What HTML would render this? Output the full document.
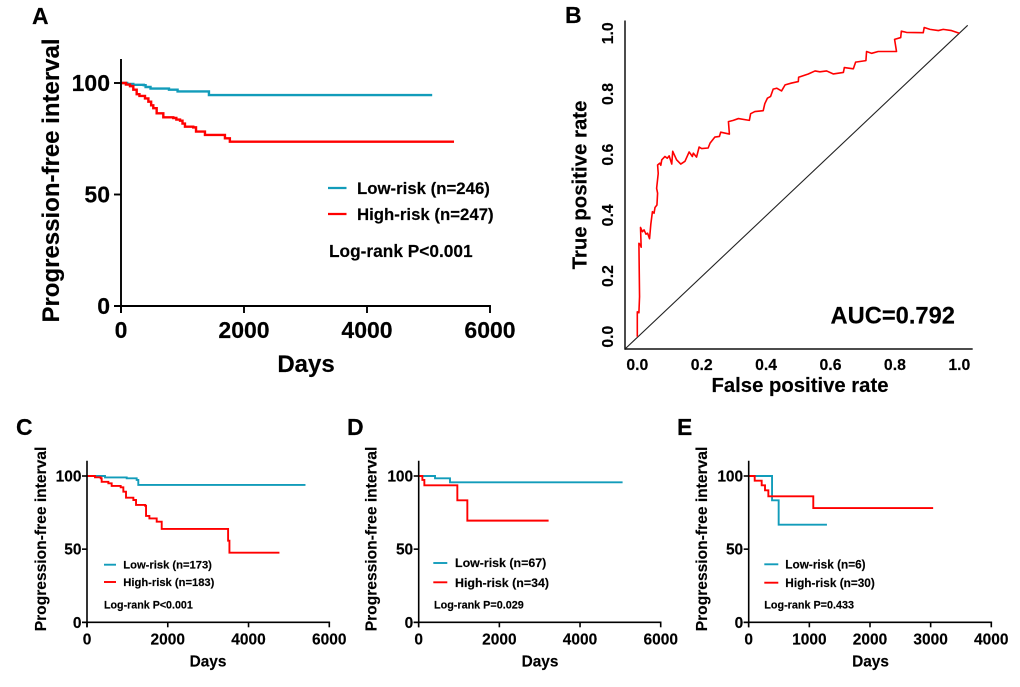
<!DOCTYPE html>
<html lang="en">
<head>
<meta charset="utf-8">
<title>Progression-free interval survival and ROC panels</title>
<style>
html,body{margin:0;padding:0;background:#fff;}
svg{display:block;filter:blur(0.35px);}
text{font-family:"Liberation Sans",Arial,sans-serif;font-weight:bold;fill:#000;stroke:#000;stroke-width:0.15px;}
</style>
</head>
<body>
<svg id="figure" xmlns="http://www.w3.org/2000/svg" width="1020" height="687" viewBox="0 0 1020 687">
  <rect x="0" y="0" width="1020" height="687" fill="#fff"/>

  <text x="32" y="24" font-size="23">A</text>
  <text x="565" y="23" font-size="23">B</text>
  <text x="16" y="435" font-size="23">C</text>
  <text x="347" y="435" font-size="23">D</text>
  <text x="677" y="435" font-size="23">E</text>

  <g id="panel-a">
    <text transform="translate(59,180.5) rotate(-90)" text-anchor="middle" font-size="24">Progression-free interval</text>
    <text x="306" y="372" text-anchor="middle" font-size="24">Days</text>
    <line x1="328" x2="346.5" y1="188" y2="188" stroke="#129cba" stroke-width="2.2"/>
    <line x1="328" x2="346.5" y1="214" y2="214" stroke="#ff0000" stroke-width="2.2"/>
    <text x="357" y="194" font-size="16.8">Low-risk (n=246)</text>
    <text x="357" y="220" font-size="16.8">High-risk (n=247)</text>
    <text x="329" y="257" font-size="17.3">Log-rank P&lt;0.001</text>
  </g>

  <g id="panel-b">
    <text transform="translate(586.7,185) rotate(-90)" text-anchor="middle" font-size="20.4">True positive rate</text>
    <text x="800" y="392" text-anchor="middle" font-size="20.3">False positive rate</text>
    <text x="830.5" y="323.5" font-size="23.7">AUC=0.792</text>
  </g>

  <g id="panel-c">
    <text transform="translate(46,539) rotate(-90)" text-anchor="middle" font-size="15.6">Progression-free interval</text>
    <text x="208" y="666.7" text-anchor="middle" font-size="15.4">Days</text>
    <line x1="104" x2="116" y1="564.7" y2="564.7" stroke="#129cba" stroke-width="1.9"/>
    <line x1="104" x2="116" y1="582" y2="582" stroke="#ff0000" stroke-width="1.9"/>
    <text x="123.3" y="568.7" font-size="11.2">Low-risk (n=173)</text>
    <text x="123.3" y="586" font-size="11.2">High-risk (n=183)</text>
    <text x="104" y="608.7" font-size="10.7">Log-rank P&lt;0.001</text>
  </g>

  <g id="panel-d">
    <text transform="translate(376.5,539) rotate(-90)" text-anchor="middle" font-size="15.6">Progression-free interval</text>
    <text x="540" y="666.7" text-anchor="middle" font-size="15.4">Days</text>
    <line x1="433.3" x2="447.3" y1="563" y2="563" stroke="#129cba" stroke-width="1.9"/>
    <line x1="433.3" x2="447.3" y1="582.3" y2="582.3" stroke="#ff0000" stroke-width="1.9"/>
    <text x="455" y="567" font-size="12.4">Low-risk (n=67)</text>
    <text x="455" y="587" font-size="12.4">High-risk (n=34)</text>
    <text x="434" y="608.7" font-size="10.8">Log-rank P=0.029</text>
  </g>

  <g id="panel-e">
    <text transform="translate(707,539) rotate(-90)" text-anchor="middle" font-size="15.6">Progression-free interval</text>
    <text x="870.5" y="666.7" text-anchor="middle" font-size="15.4">Days</text>
    <line x1="764.3" x2="778.3" y1="564.3" y2="564.3" stroke="#129cba" stroke-width="1.9"/>
    <line x1="764.3" x2="778.3" y1="582.7" y2="582.7" stroke="#ff0000" stroke-width="1.9"/>
    <text x="785.3" y="568.5" font-size="11.8">Low-risk (n=6)</text>
    <text x="785.3" y="587" font-size="11.8">High-risk (n=30)</text>
    <text x="764.3" y="608.7" font-size="10.8">Log-rank P=0.433</text>
  </g>
</svg>

<script>
// ---- Data: panel A ----
const aLowDays = [0, 100, 200, 370, 400, 480, 780, 920, 1430, 5060];
const aLowSurvival = [100, 99.6, 99.2, 99, 98.2, 97.5, 97, 96.2, 94.6, 94.6];
const aHighDays = [0, 80, 146, 200, 255, 300, 390, 445, 490, 525, 580, 688, 850, 900, 960, 1000, 1040, 1175, 1220, 1365, 1690, 1770, 5415];
const aHighSurvival = [100, 99.3, 98.6, 97, 95, 94.2, 93.1, 91.6, 90, 88.7, 86.4, 84.6, 84.3, 83.6, 83.1, 81.8, 80.4, 80.1, 78.2, 76.7, 75.2, 73.7, 73.7];
const aXTicks = [0, 2000, 4000, 6000];
const aYTicks = [0, 50, 100];

// ---- Data: panel C ----
const cLowDays = [0, 446, 983, 1230, 1270, 5410];
const cLowSurvival = [100, 99, 98.4, 97.3, 93.9, 93.9];
const cHighDays = [0, 198, 339, 363, 529, 611, 834, 900, 966, 1148, 1214, 1437, 1462, 1545, 1726, 1850, 3494, 3527, 4765];
const cHighSurvival = [100, 99.1, 98.4, 96, 95, 93.2, 92.3, 89.3, 85.2, 83.6, 80.2, 79.7, 72.7, 71, 68.8, 63.8, 55.8, 47.6, 47.6];
const cXTicks = [0, 2000, 4000, 6000];
const cYTicks = [0, 50, 100];

// ---- Data: panel D ----
const dLowDays = [0, 405, 776, 5055];
const dLowSurvival = [100, 98.4, 95.7, 95.7];
const dHighDays = [0, 91, 140, 958, 1206, 3221];
const dHighSurvival = [100, 97.3, 93.6, 83.4, 69.5, 69.5];
const dXTicks = [0, 2000, 4000, 6000];
const dYTicks = [0, 50, 100];

// ---- Data: panel E ----
const eLowDays = [0, 385, 494, 1290];
const eLowSurvival = [100, 83.4, 66.7, 66.7];
const eHighDays = [0, 99, 214, 269, 324, 1065, 3041];
const eHighSurvival = [100, 96.8, 93.6, 90.2, 86.1, 78.1, 78.1];
const eXTicks = [0, 1000, 2000, 3000, 4000];
const eYTicks = [0, 50, 100];

// ---- Data: panel B (ROC) ----
const rocFpr = [0, 0, 0, .005, .007, .005, .010, .012, .010, .016, .021, .027, .032, .038, .042, .047, .052, .055, .061, .063, .060, .065, .063, .070, .073, .076, .086, .093, .099, .107, .110, .122, .135, .148, .161, .171, .174, .184, .192, .200, .220, .226, .241, .255, .259, .286, .283, .298, .314, .348, .352, .365, .391, .396, .404, .414, .422, .433, .448, .459, .479, .500, .501, .531, .552, .567, .588, .609, .640, .643, .671, .678, .710, .712, .728, .748, .805, .799, .818, .820, .836, .888, .891, .909, .935, .950, .976, 1];
const rocTpr = [0, .033, .082, .079, .132, .308, .302, .295, .360, .346, .352, .338, .341, .323, .371, .412, .407, .426, .434, .473, .489, .538, .566, .572, .565, .583, .594, .588, .596, .569, .611, .583, .569, .578, .609, .594, .605, .592, .625, .620, .622, .638, .658, .660, .674, .668, .709, .713, .719, .713, .735, .742, .745, .768, .786, .792, .816, .819, .810, .830, .836, .841, .855, .866, .876, .873, .876, .866, .871, .887, .883, .905, .910, .940, .934, .940, .940, .980, .986, 1.007, 1.003, 1.002, 1.019, 1.013, 1.009, 1.013, 1.009, 1];
const rocDiagonal = [0, 1];
const rocXTicks = [0, 0.2, 0.4, 0.6, 0.8, 1.0];
const rocYTicks = [0, 0.2, 0.4, 0.6, 0.8, 1.0];

const SVG_NS = 'http://www.w3.org/2000/svg';
const TEAL = '#129cba';
const RED = '#ff0000';

function linearScale(d0, d1, r0, r1) {
  return function (v) { return r0 + (v - d0) * (r1 - r0) / (d1 - d0); };
}

function make(parent, tag, attrs) {
  const el = document.createElementNS(SVG_NS, tag);
  Object.keys(attrs).forEach(function (k) { el.setAttribute(k, attrs[k]); });
  parent.appendChild(el);
  return el;
}

function stepPath(days, values, x, y) {
  let d = 'M' + x(days[0]).toFixed(2) + ' ' + y(values[0]).toFixed(2);
  for (let i = 1; i < days.length; i++) {
    d += 'H' + x(days[i]).toFixed(2) + 'V' + y(values[i]).toFixed(2);
  }
  return d;
}

function linePath(xs, ys, x, y) {
  return xs.map(function (v, i) {
    return (i ? 'L' : 'M') + x(v).toFixed(2) + ' ' + y(ys[i]).toFixed(2);
  }).join('');
}

function drawSurvival(p) {
  const g = document.getElementById(p.id);
  const x = linearScale(p.xTicks[0], p.xTicks[p.xTicks.length - 1], p.x0, p.x1);
  const y = linearScale(0, 100, p.y0, p.y100);
  const s = p.suffix;

  const low = make(g, 'path', { d: stepPath(p.lowDays, p.lowSurvival, x, y), fill: 'none', stroke: TEAL, 'stroke-width': p.line });
  
  
  const high = make(g, 'path', { d: stepPath(p.highDays, p.highSurvival, x, y), fill: 'none', stroke: RED, 'stroke-width': p.line });
  
  

  const yAxis = make(g, 'line', { x1: p.x0, x2: p.x0, y1: p.yTop, y2: p.y0 + p.tick, stroke: '#000', 'stroke-width': p.axis });
  
  
  const xAxis = make(g, 'line', { x1: p.x0 - p.tick, x2: p.x1 + p.axis / 2, y1: p.y0, y2: p.y0, stroke: '#000', 'stroke-width': p.axis });
  
  

  p.xTicks.forEach(function (t) {
    const tick = make(g, 'line', { x1: x(t), x2: x(t), y1: p.y0, y2: p.y0 + p.tick, stroke: '#000', 'stroke-width': p.axis });
    
    
    const label = make(g, 'text', { x: x(t), y: p.y0 + p.xLabelDy, 'text-anchor': 'middle', 'font-size': p.tickFont });
    
    
    label.textContent = t;
  });
  p.yTicks.forEach(function (t) {
    const tick = make(g, 'line', { x1: p.x0 - p.tick, x2: p.x0, y1: y(t), y2: y(t), stroke: '#000', 'stroke-width': p.axis });
    
    
    const label = make(g, 'text', { x: p.x0 - p.yLabelGap, y: y(t) + p.yLabelDy, 'text-anchor': 'end', 'font-size': p.tickFont });
    
    
    label.textContent = t;
  });
}

function drawRoc() {
  const g = document.getElementById('panel-b');
  const x = linearScale(0, 1, 637.3, 959.3);
  const y = linearScale(0, 1, 336.7, 33.3);

  const diagonal = make(g, 'line', { x1: x(rocDiagonal[0]) - 12.3, y1: y(rocDiagonal[0]) + 12.3, x2: x(rocDiagonal[1]) + 8.4, y2: y(rocDiagonal[1]) - 8, stroke: '#222', 'stroke-width': 1.1 });
  
  

  const curve = make(g, 'path', { d: linePath(rocFpr, rocTpr, x, y), fill: 'none', stroke: RED, 'stroke-width': 1.6, 'stroke-linejoin': 'round' });
  
  

  const yAxis = make(g, 'line', { x1: 625, x2: 625, y1: 20.5, y2: 349.7, stroke: '#111', 'stroke-width': 1.5 });
  
  
  const xAxis = make(g, 'line', { x1: 625, x2: 972.7, y1: 349, y2: 349, stroke: '#111', 'stroke-width': 1.5 });
  
  

  rocXTicks.forEach(function (t) {
    const label = make(g, 'text', { x: x(t), y: 370, 'text-anchor': 'middle', 'font-size': 15.8 });
    
    
    label.textContent = t.toFixed(1);
  });
  rocYTicks.forEach(function (t) {
    const label = make(g, 'text', { transform: 'translate(613,' + y(t).toFixed(2) + ') rotate(-90)', 'text-anchor': 'middle', 'font-size': 15.8 });
    
    
    label.textContent = t.toFixed(1);
  });
}

const bigStyle = { line: 2.4, axis: 1.9, tick: 7, tickFont: 23, xLabelDy: 32, yLabelGap: 11, yLabelDy: 8 };
const smallStyle = { line: 1.9, axis: 1.6, tick: 5, tickFont: 15.5, xLabelDy: 22, yLabelGap: 5.5, yLabelDy: 5.5 };

drawSurvival(Object.assign({ id: 'panel-a', suffix: 'a', x0: 121, x1: 490, y0: 306, y100: 83, yTop: 59, lowDays: aLowDays, lowSurvival: aLowSurvival, highDays: aHighDays, highSurvival: aHighSurvival, xTicks: aXTicks, yTicks: aYTicks }, bigStyle));
drawSurvival(Object.assign({ id: 'panel-c', suffix: 'c', x0: 87, x1: 329.3, y0: 622.3, y100: 476, yTop: 460.7, lowDays: cLowDays, lowSurvival: cLowSurvival, highDays: cHighDays, highSurvival: cHighSurvival, xTicks: cXTicks, yTicks: cYTicks }, smallStyle));
drawSurvival(Object.assign({ id: 'panel-d', suffix: 'd', x0: 418.7, x1: 660.7, y0: 622.3, y100: 476, yTop: 460.7, lowDays: dLowDays, lowSurvival: dLowSurvival, highDays: dHighDays, highSurvival: dHighSurvival, xTicks: dXTicks, yTicks: dYTicks }, smallStyle));
drawSurvival(Object.assign({ id: 'panel-e', suffix: 'e', x0: 748.7, x1: 991.3, y0: 622.3, y100: 476, yTop: 460.7, lowDays: eLowDays, lowSurvival: eLowSurvival, highDays: eHighDays, highSurvival: eHighSurvival, xTicks: eXTicks, yTicks: eYTicks }, smallStyle));
drawRoc();
</script>
</body>
</html>
